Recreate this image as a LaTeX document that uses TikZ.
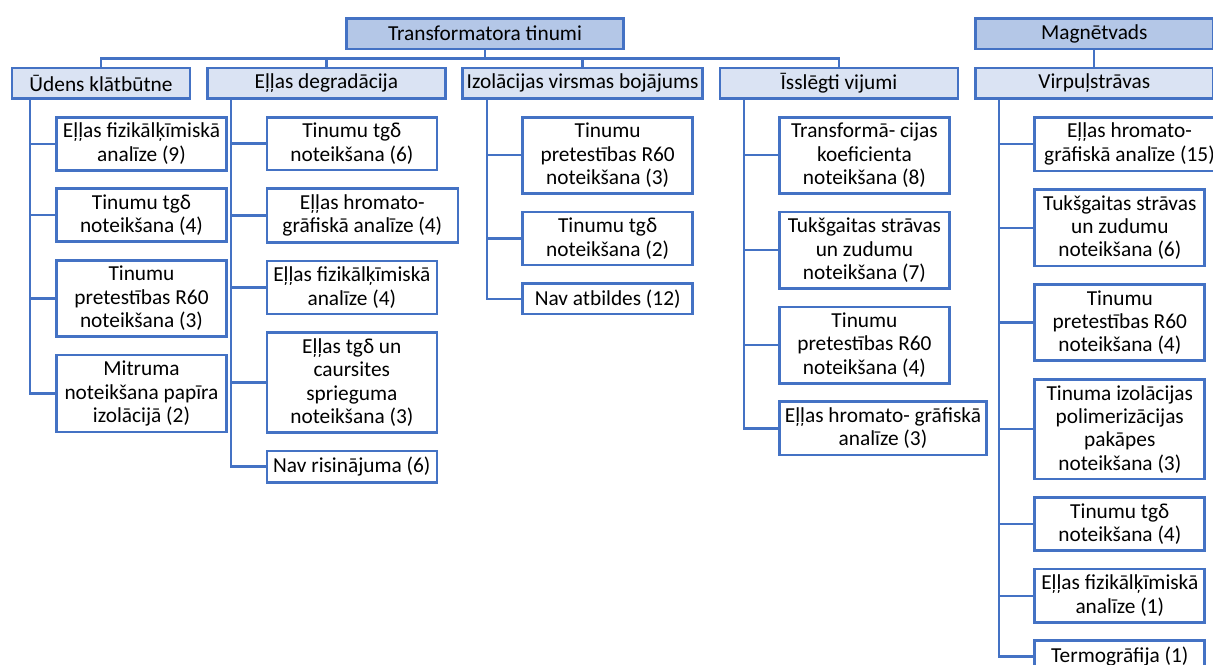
\documentclass[tikz,border=0pt]{standalone}
\usepackage{fontspec}
\setmainfont{Carlito}
\usetikzlibrary{positioning}
\usetikzlibrary{calc}
\definecolor{shLinija}{RGB}{68,114,196}
\definecolor{shTumss}{RGB}{180,199,231}
\definecolor{shGaiss}{RGB}{218,227,243}
\newcommand{\shTeksts}{\fontsize{16}{17.5}\selectfont}
\tikzset{
  galvena/.style={
    rectangle, draw=shLinija, line width=2pt, fill=shTumss, outer sep=0pt,
    minimum height=23pt, minimum width=178.5pt,
    align=center, font=\shTeksts, inner sep=3pt
  },
  virsraksts/.style={
    rectangle, draw=shLinija, line width=2pt, fill=shGaiss, outer sep=0pt,
    minimum height=23pt, minimum width=178.5pt,
    align=center, font=\shTeksts, inner sep=3pt
  },
  berns/.style={
    rectangle, draw=shLinija, line width=2pt, fill=white, outer sep=0pt,
    minimum width=127.5pt, minimum height=22.5pt,
    align=center, font=\shTeksts, inner xsep=3pt, inner ysep=4.5pt
  },
  saite/.style={line width=1.75pt, draw=shLinija}
}

\begin{document}
\begin{tikzpicture}[x=0.75pt, y=0.75pt, node distance=13.9pt and 13pt]
  \useasboundingbox (0,0) rectangle (1213,-664);
  % otrais limenis
  \node[virsraksts, anchor=north west, minimum width=133.5pt] (ud) at (12,-68) {Ūdens klātbūtne};
  \node[virsraksts, right=of ud] (el) {Eļļas degradācija};
  \node[virsraksts, right=of el] (iz) {Izolācijas virsmas bojājums};
  \node[virsraksts, right=of iz] (is) {Īsslēgti vijumi};
  \node[virsraksts, right=of is] (vi) {Virpuļstrāvas};
  % augsejais limenis
  \coordinate (vid) at ($(ud.north west)!0.5!(is.north east)$);
  \node[galvena, above=14.25pt of vid, minimum width=207.75pt] (tr) {Transformatora tinumi};
  \node[galvena, above=14.25pt of vi] (ma) {Magnētvads};

  % Udens klatbutne
  \node[berns, anchor=north west] (ud1) at ($(ud.south west)!0.25!(ud.south east)+(0,-18.5)$) {Eļļas fizikālķīmiskā\\analīze (9)};
  \node[berns, below=of ud1.south west, anchor=north west] (ud2) {Tinumu tgδ\\noteikšana (4)};
  \node[berns, below=of ud2.south west, anchor=north west] (ud3) {Tinumu\\pretestības R60\\noteikšana (3)};
  \node[berns, below=of ud3.south west, anchor=north west] (ud4) {Mitruma\\noteikšana papīra\\izolācijā (2)};

  % Ellas degradacija
  \node[berns, anchor=north west] (el1) at ($(el.south west)!0.25!(el.south east)+(0,-18.5)$) {Tinumu tgδ\\noteikšana (6)};
  \node[berns, below=of el1.south west, anchor=north west, minimum width=143.25pt] (el2) {Eļļas hromato-\\grāfiskā analīze (4)};
  \node[berns, below=of el2.south west, anchor=north west] (el3) {Eļļas fizikālķīmiskā\\analīze (4)};
  \node[berns, below=of el3.south west, anchor=north west] (el4) {Eļļas tgδ un\\caursites\\sprieguma\\noteikšana (3)};
  \node[berns, below=of el4.south west, anchor=north west] (el5) {Nav risinājuma (6)};

  % Izolacijas virsmas bojajums
  \node[berns, anchor=north west] (iz1) at ($(iz.south west)!0.25!(iz.south east)+(0,-18.5)$) {Tinumu\\pretestības R60\\noteikšana (3)};
  \node[berns, below=of iz1.south west, anchor=north west] (iz2) {Tinumu tgδ\\noteikšana (2)};
  \node[berns, below=of iz2.south west, anchor=north west] (iz3) {Nav atbildes (12)};

  % Isslegti vijumi
  \node[berns, anchor=north west] (is1) at ($(is.south west)!0.25!(is.south east)+(0,-18.5)$) {Transformā- cijas\\koeficienta\\noteikšana (8)};
  \node[berns, below=of is1.south west, anchor=north west] (is2) {Tukšgaitas strāvas\\un zudumu\\noteikšana (7)};
  \node[berns, below=of is2.south west, anchor=north west] (is3) {Tinumu\\pretestības R60\\noteikšana (4)};
  \node[berns, below=of is3.south west, anchor=north west, minimum width=155.25pt] (is4) {Eļļas hromato- grāfiskā\\analīze (3)};

  % Virpulstravas
  \node[berns, anchor=north west, minimum width=142pt] (vi1) at ($(vi.south west)!0.25!(vi.south east)+(0,-18.5)$) {Eļļas hromato-\\grāfiskā analīze (15)};
  \node[berns, below=of vi1.south west, anchor=north west] (vi2) {Tukšgaitas strāvas\\un zudumu\\noteikšana (6)};
  \node[berns, below=of vi2.south west, anchor=north west] (vi3) {Tinumu\\pretestības R60\\noteikšana (4)};
  \node[berns, below=of vi3.south west, anchor=north west] (vi4) {Tinuma izolācijas\\polimerizācijas\\pakāpes\\noteikšana (3)};
  \node[berns, below=of vi4.south west, anchor=north west] (vi5) {Tinumu tgδ\\noteikšana (4)};
  \node[berns, below=of vi5.south west, anchor=north west] (vi6) {Eļļas fizikālķīmiskā\\analīze (1)};
  \node[berns, below=of vi6.south west, anchor=north west] (vi7) {Termogrāfija (1)};

  % savienojumi
  \coordinate (jos) at ($(tr.south)!0.5!(tr.south |- ud.north)$);
  \foreach \n in {ud,el,iz,is}
    \draw[saite] (tr.south) -- (jos) -| (\n.north);
  \draw[saite] (ma) -- (vi);
  \foreach \c/\m in {ud/4,el/5,iz/3,is/4,vi/7}{
    \coordinate (\c A) at ($(\c.south west)!0.1!(\c.south east)$);
    \draw[saite] (\c A) |- (\c\m.west);
    \foreach \k in {1,...,\m}
      \draw[saite] (\c A |- \c\k.west) -- (\c\k.west);
  }
\end{tikzpicture}
\end{document}
